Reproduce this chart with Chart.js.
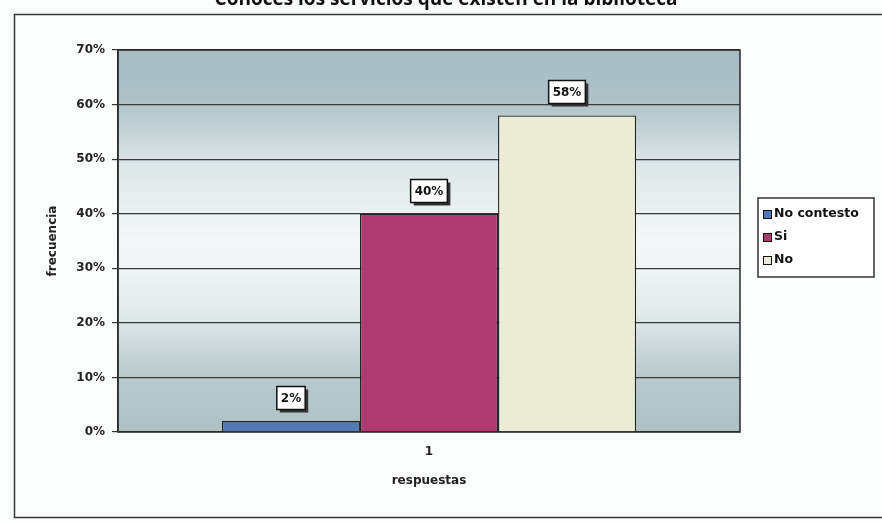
<!DOCTYPE html>
<html><head><meta charset="utf-8">
<script src="https://cdn.jsdelivr.net/npm/chart.js@4"></script>
<style>html,body{margin:0;padding:0;background:#fbfcfc;overflow:hidden}#wrap{width:882px;height:522px;position:relative}</style>
</head><body><div id="wrap"><canvas id="c" width="882" height="522"></canvas></div>
<script>
const titleText = 'Conoces los servicios que existen en la biblioteca';
const categories = ['1'];
const seriesNames = ['No contesto', 'Si', 'No'];
const noContesto = [2];
const si = [40];
const no = [58];
const seriesColors = ['#5478b4', '#ad3a70', '#ecebd6'];
const yTicks = [0, 10, 20, 30, 40, 50, 60, 70];
const yAxisTitle = 'frecuencia';
const xAxisTitle = 'respuestas';

const FONT = 'DejaVu Sans';

const decor = {
  id: 'decor',
  beforeDraw(chart) {
    const ctx = chart.ctx, a = chart.chartArea;
    ctx.save();
    ctx.fillStyle = '#fbfcfc';
    ctx.fillRect(0, 0, chart.width, chart.height);
    // outer frame
    ctx.strokeStyle = '#3a3a3a'; ctx.lineWidth = 1.5;
    ctx.strokeRect(14.5, 14.5, 900, 503);
    // title (cut off at top)
    ctx.fillStyle = '#111';
    ctx.font = 'bold 19px "Open Sans"';
    ctx.textAlign = 'center'; ctx.textBaseline = 'alphabetic';
    ctx.fillText(titleText, 446, 5);
    // plot background gradient
    const g = ctx.createLinearGradient(0, a.top, 0, a.bottom);
    g.addColorStop(0, '#a7bdc2');
    g.addColorStop(0.13, '#aec2c6');
    g.addColorStop(0.3, '#dde6e8');
    g.addColorStop(0.5, '#f5f8f8');
    g.addColorStop(0.68, '#e4ebec');
    g.addColorStop(0.85, '#b9cacd');
    g.addColorStop(1, '#adc1c4');
    ctx.fillStyle = g;
    ctx.fillRect(a.left, a.top, a.right - a.left, a.bottom - a.top);
    ctx.restore();
  },
  afterDraw(chart) {
    const ctx = chart.ctx, a = chart.chartArea;
    ctx.save();
    // plot border
    ctx.strokeStyle = '#2a2a2a'; ctx.lineWidth = 1.5;
    ctx.strokeRect(a.left, a.top, a.right - a.left, a.bottom - a.top);
    // data labels
    ctx.font = 'bold 12px ' + FONT;
    ctx.textAlign = 'center'; ctx.textBaseline = 'middle';
    chart.data.datasets.forEach((ds, i) => {
      const meta = chart.getDatasetMeta(i);
      meta.data.forEach((el, j) => {
        const txt = ds.data[j] + '%';
        const w = ctx.measureText(txt).width + 8, h = 23;
        const cx = Math.round(el.x), cy = Math.round(el.y - 23);
        const x0 = cx - w / 2, y0 = cy - h / 2;
        ctx.fillStyle = '#333';
        ctx.fillRect(x0 + 3, y0 + 3, w, h);
        ctx.fillStyle = '#ffffff';
        ctx.fillRect(x0, y0, w, h);
        ctx.strokeStyle = '#111'; ctx.lineWidth = 1.5;
        ctx.strokeRect(x0, y0, w, h);
        ctx.fillStyle = '#111';
        ctx.fillText(txt, cx, cy + 1);
      });
    });
    // legend
    const lx = 758, ly = 198, lw = 116, lh = 79;
    ctx.fillStyle = '#ffffff';
    ctx.fillRect(lx, ly, lw, lh);
    ctx.strokeStyle = '#333'; ctx.lineWidth = 1.5;
    ctx.strokeRect(lx, ly, lw, lh);
    ctx.font = 'bold 12.5px ' + FONT;
    ctx.textAlign = 'left'; ctx.textBaseline = 'middle';
    chart.data.datasets.forEach((ds, i) => {
      const y = 214 + i * 23;
      ctx.fillStyle = ds.backgroundColor;
      ctx.fillRect(763, y - 4, 8, 8);
      ctx.strokeStyle = '#111'; ctx.lineWidth = 1;
      ctx.strokeRect(763.5, y - 3.5, 8, 8);
      ctx.fillStyle = '#111';
      ctx.fillText(ds.label, 774, y);
    });
    ctx.restore();
  }
};

const seriesData = [noContesto, si, no];
new Chart(document.getElementById('c'), {
  type: 'bar',
  data: {
    labels: categories,
    datasets: seriesNames.map((n, i) => ({
      label: n,
      data: seriesData[i],
      backgroundColor: seriesColors[i],
      borderColor: '#222',
      borderWidth: 1.3,
      barPercentage: 1.0,
      categoryPercentage: 0.666
    }))
  },
  options: {
    responsive: false,
    animation: false,
    devicePixelRatio: 1,
    layout: { padding: { left: 16, right: 142, top: 50, bottom: 0 } },
    plugins: { legend: { display: false }, tooltip: { enabled: false }, title: { display: false } },
    scales: {
      x: {
        grid: { display: false, drawTicks: false },
        border: { display: false },
        ticks: { color: '#222', font: { family: FONT, weight: 'bold', size: 12 }, padding: 13 },
        title: { display: true, text: xAxisTitle, color: '#222', font: { family: FONT, weight: 'bold', size: 12 }, padding: { top: 0, bottom: 34 } },
        afterFit: s => { s.height = 90; }
      },
      y: {
        min: 0, max: 70,
        afterBuildTicks: s => { s.ticks = yTicks.map(v => ({ value: v })); },
        ticks: { callback: v => v + '%', color: '#222', font: { family: FONT, weight: 'bold', size: 12 }, padding: 7 },
        grid: { color: '#3a3a3a', lineWidth: 1.2, tickLength: 6, tickColor: '#333' },
        border: { display: true, color: '#333', width: 1.5 },
        title: { display: true, text: yAxisTitle, color: '#222', font: { family: FONT, weight: 'bold', size: 12 }, padding: { top: 30, bottom: 0 } },
        afterFit: s => { s.width = 102; }
      }
    }
  },
  plugins: [decor]
});
</script></body></html>
